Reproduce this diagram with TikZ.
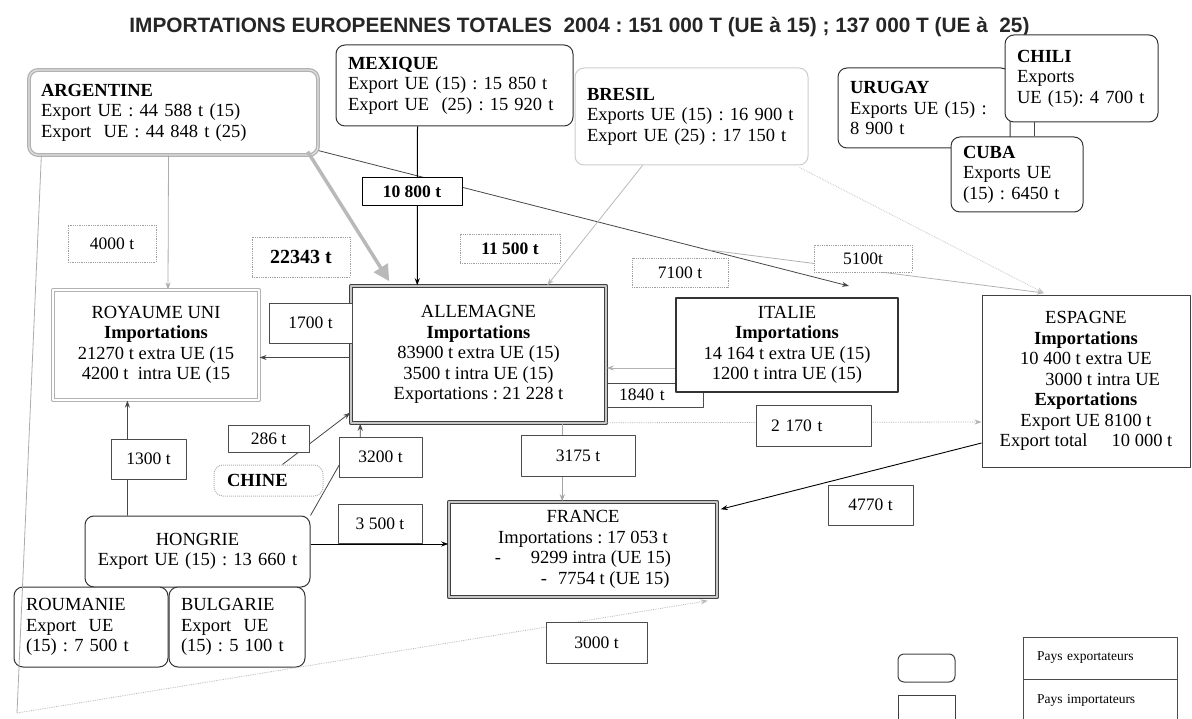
\documentclass[tikz,border=0pt]{standalone}
\usepackage{fontspec}
\setmainfont{Liberation Serif}
\newfontfamily\titrefont{Liberation Sans}
\usetikzlibrary{arrows.meta,calc}
\frenchspacing

\begin{document}
\begin{tikzpicture}[x=1pt, y=-1pt, >={Stealth[length=7pt,width=5pt]},
    line join=round, font=\fontsize{18.5}{20.5}\selectfont,
    expo/.style={draw=black!80, line width=1pt, rounded corners=9pt, fill=white,
      align=left, inner xsep=12pt, inner ysep=0pt},
    impo/.style={draw=black!80, fill=white, align=center, inner sep=0pt},
    qte/.style={draw=black!70, line width=.8pt, fill=white, inner sep=0pt,
      font=\fontsize{17.5}{20}\selectfont},
    qtep/.style={qte, draw=gray!75, densely dotted},
    flux/.style={draw=gray!55!black, line width=.8pt},
    leg/.style={draw=black!70, line width=.8pt, fill=white, inner xsep=14pt,
      inner ysep=0pt, align=left, text width=126pt, minimum height=42pt,
      font=\fontsize{13.5}{15}\selectfont}]

  \useasboundingbox (0,0) rectangle (1192,719);
  \clip (0,0) rectangle (1192,719);

  % Titre
  \node[font=\titrefont\bfseries\fontsize{20.8}{24}\selectfont, text=black!85, anchor=base]
    (titre) at (579.5,33)
    {IMPORTATIONS EUROPEENNES TOTALES\ \ 2004 : 151 000 T (UE à 15) ; 137 000 T (UE à\ \ 25)};

  % Pays exportateurs
  \node[expo, draw=gray!60, line width=1.3pt, double=gray!25, double distance=1.3pt,
    text width=265pt, minimum height=85pt] (arg) at (173.5,112.5)
    {\textbf{ARGENTINE}\\Export UE : 44 588 t (15)\\Export\ \ UE : 44 848 t (25)};
  \node[expo, text width=213pt, minimum height=81pt] (mex) at (454.5,85.5)
    {\textbf{MEXIQUE}\\Export UE (15) : 15 850 t\\Export UE\ \ (25) : 15 920 t};
  \node[expo, draw=gray!40, text width=209pt, minimum height=97pt] (bre) at (691.5,116.5)
    {\textbf{BRESIL}\\Exports UE (15) : 16 900 t\\Export UE (25) : 17 150 t};
  \node[expo, text width=148pt, minimum height=80pt] (uru) at (924,108)
    {\textbf{URUGAY}\\Exports UE (15) :\\8 900 t};
  \node[expo, text width=129pt, minimum height=87pt] (chi) at (1081.5,78.5)
    {\textbf{CHILI}\\Exports\\UE (15): 4 700 t};
  \node[expo, text width=108pt, minimum height=75pt] (cub) at (1017,174.5)
    {\textbf{CUBA}\\Exports UE\\(15) : 6450 t};
  \node[expo, align=center, text width=201pt, minimum height=71pt] (hon) at (197.5,551.5)
    {HONGRIE\\Export UE (15) : 13 660 t};
  \node[expo, text width=130pt, minimum height=80pt] (rou) at (91,627)
    {ROUMANIE\\Export\ \ UE\\(15) : 7 500 t};
  \node[expo, text width=112pt, minimum height=80pt] (bul) at (237,627)
    {BULGARIE\\Export\ \ UE\\(15) : 5 100 t};
  \node[expo, draw=gray!60, densely dotted, text width=83pt, inner xsep=13pt,
    minimum height=31pt] (chn) at (268.5,480.5) {\textbf{CHINE}};

  % Pays importateurs
  \node[qte, align=left, inner xsep=12pt, text width=72pt, minimum height=24pt] (q1840)
    at (655,395) {1840 t};
  \node[impo, draw=gray!60, line width=1.2pt, double=white, double distance=1.5pt,
    minimum width=206pt, minimum height=110pt] (ru) at (156,345)
    {ROYAUME UNI\\\textbf{Importations}\\21270 t extra UE (15\\4200 t\ \ intra UE (15};
  \node[impo, draw=black!75, line width=1.5pt, double=gray!45, double distance=1.8pt,
    minimum width=255pt, minimum height=137pt] (all) at (478.5,354.5)
    {ALLEMAGNE\\\textbf{Importations}\\83900 t extra UE (15)\\3500 t intra UE (15)\\Exportations : 21 228 t};
  \node[impo, line width=2.5pt, minimum width=222pt, minimum height=94pt] (ita) at (787,345)
    {ITALIE\\\textbf{Importations}\\14 164 t extra UE (15)\\1200 t intra UE (15)};
  \node[impo, draw=gray!50!black, line width=.9pt, minimum width=208pt, minimum height=172pt]
    (esp) at (1086,381)
    {ESPAGNE\\\textbf{Importations}\\10 400 t extra UE\\\hspace*{1.8em}3000 t intra UE\\
     \textbf{Exportations}\\Export UE 8100 t\\Export total\hspace{1.3em}10 000 t};
  \node[impo, draw=black!75, line width=1.5pt, double=gray!45, double distance=1.8pt,
    minimum width=268pt, minimum height=95pt] (fra) at (583,549.5)
    {FRANCE\\Importations : 17 053 t\\-\hspace{1.6em}9299 intra (UE 15)\\
     \hspace*{2.4em}-\hspace{.6em}7754 t (UE 15)};

  % Points libres
  \coordinate (bas) at (17,713);
  \coordinate (fita) at (849,286);
  \coordinate (embr) at (709,250);
  \coordinate (fesp) at (1044,293);

  % Flux
  \draw[flux, gray!65, ->] ($(arg.south)+(-5,0)$) -- ($(ru.north)+(12,0)$);
  \draw[flux, gray!65] ($(arg.south west)+(13,0)$) -- (bas);
  \draw[flux, gray!55, densely dotted, ->] (bas) -- ($(fra.south east)+(-10,3)$);
  \draw[gray!55, line width=3.5pt, -{Triangle[length=16pt,width=16pt]}]
    ($(arg.south east)+(-11,-4)$) -- ($(all.north west)+(39,-4)$);
  \draw[flux, ->] ($(arg.south east)+(0,-5)$) -- (fita);
  \draw[flux, gray!60, ->] (embr) -- (fesp);
  \draw[black, line width=1pt, ->] ($(mex.south west)+(82,0)$) -- ($(all.north west)+(67,0)$);
  \draw[flux, gray!55, ->] ($(bre.south west)+(68,0)$) -- ($(all.north west)+(197,0)$);
  \draw[flux, gray!45, densely dotted, ->] ($(bre.south east)+(-9,2)$) -- (fesp);
  \draw[flux, ->] ($(all.west)+(0,3)$) -- ($(ru.east)+(0,12.5)$);
  \draw[flux, gray!60, densely dotted, ->] ($(all.south east)+(0,-1)$) -- ($(esp.west)+(0,41)$);
  \draw[flux, gray!70, ->] ($(all.south west)+(212,0)$) -- ($(fra.north west)+(114,0)$);
  \draw[flux, gray!60, ->] ($(ita.west)+(0,23)$) -- ($(all.east)+(0,13.5)$);
  \draw[black, line width=.9pt, ->] ($(esp.west)+(0,62)$) -- ($(fra.north east)+(3,8)$);
  \draw[flux, ->] ($(chn.north)+(14,0)$) -- ($(all.south west)+(0,-11)$);
  \draw[flux, ->] ($(hon.north west)+(43,0)$) -- ($(ru.south west)+(75,0)$);
  \draw[flux, ->] (hon.north east) -- ($(hon.north east)+(29,-51)$)
    -- ($(all.south west)+(10,17)$) -- ($(all.south west)+(10,0)$);
  \draw[black, line width=.9pt, ->] ($(hon.east)+(0,-7.5)$) -- ($(fra.west)+(0,-5.5)$);
  \draw[flux] ($(chi.south west)+(30,0)$) -- ($(cub.north west)+(84,0)$);

  % Quantites
  \node[qte, draw=black, line width=1pt, minimum width=100pt, minimum height=28pt] (q10800)
    at (412,192) {\textbf{10 800 t}};
  \node[qtep, minimum width=88pt, minimum height=37pt] (q4000) at (112,243.5) {4000 t};
  \node[qtep, minimum width=98pt, minimum height=40pt, font=\fontsize{20}{22}\selectfont\bfseries]
    (q22343) at (301,257) {22343 t};
  \node[qtep, minimum width=100pt, minimum height=29pt] (q11500) at (510,248.5) {\textbf{11 500 t}};
  \node[qtep, minimum width=96pt, minimum height=29pt] (q7100) at (680,272.5) {7100 t};
  \node[qtep, minimum width=98pt, minimum height=27pt] (q5100) at (863,258.5) {5100t};
  \node[qte, minimum width=83pt, minimum height=40pt] (q1700) at (310.5,323) {1700 t};
  \node[qte, align=left, inner xsep=15pt, text width=85pt, minimum height=41pt] (q2170)
    at (813.5,425.5) {2 170 t};
  \node[qte, minimum width=81pt, minimum height=27pt] (q286) at (268.5,438.5) {286 t};
  \node[qte, minimum width=83pt, minimum height=40pt] (q3200) at (380.5,457) {3200 t};
  \node[qte, minimum width=114pt, minimum height=41pt] (q3175) at (578,455.5) {3175 t};
  \node[qte, minimum width=75pt, minimum height=40pt] (q1300) at (148.5,459) {1300 t};
  \node[qte, minimum width=84pt, minimum height=39pt] (q3500) at (380,523.5) {3 500 t};
  \node[qte, minimum width=85pt, minimum height=40pt] (q4770) at (870.5,505) {4770 t};
  \node[qte, minimum width=101pt, minimum height=41pt] (q3000) at (596.5,642.5) {3000 t};

  % Legende
  \node[draw=black!75, line width=1pt, rounded corners=6pt, minimum width=57pt,
    minimum height=28pt] (lgexpo) at (926.5,668) {};
  \node[draw=black!75, line width=1pt, minimum width=57pt, minimum height=34pt]
    (lgimpo) at (926.5,712) {};
  \node[leg] (lgtab1) at (1100,658) {Pays exportateurs};
  \node[leg] (lgtab2) at (1100,700) {Pays importateurs};

\end{tikzpicture}
\end{document}
